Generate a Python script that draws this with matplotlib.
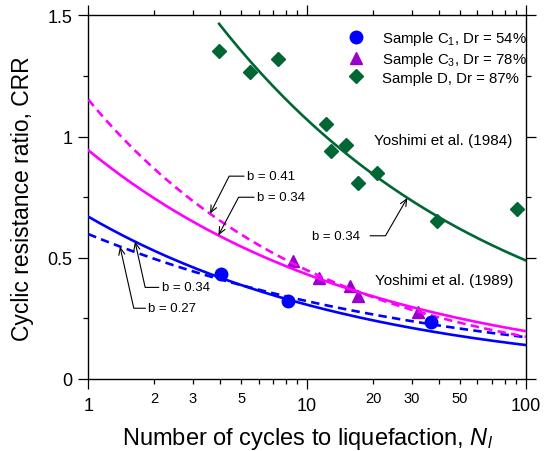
import numpy as np
import matplotlib
matplotlib.use("Agg")
import matplotlib.pyplot as plt
from matplotlib.lines import Line2D
from matplotlib.ticker import FixedLocator, FixedFormatter, NullFormatter

plt.rcParams['font.family'] = ['Liberation Sans', 'DejaVu Sans']
plt.rcParams['mathtext.fontset'] = 'custom'
plt.rcParams['mathtext.rm'] = 'Liberation Sans'
plt.rcParams['mathtext.it'] = 'Liberation Sans:italic'

# test data
c1_n = [4.04, 8.20, 36.8]
c1_crr = [0.433, 0.321, 0.234]
c3_n = [8.65, 11.3, 15.7, 17.1, 32.2]
c3_crr = [0.486, 0.415, 0.385, 0.344, 0.275]
d_n = [3.96, 5.48, 7.38, 12.2, 12.9, 15.0, 17.0, 20.8, 39.1, 90.5]
d_crr = [1.355, 1.268, 1.321, 1.052, 0.942, 0.966, 0.809, 0.849, 0.653, 0.702]

# fitted curves CRR = a * N^-b
fit_a = {'c1_solid': 0.670, 'c1_dash': 0.598, 'c3_solid': 0.944, 'c3_dash': 1.153, 'd': 2.34}
fit_b = {'c1_solid': 0.34, 'c1_dash': 0.27, 'c3_solid': 0.34, 'c3_dash': 0.41, 'd': 0.34}
fit_start = {'c1_solid': 1, 'c1_dash': 1, 'c3_solid': 1, 'c3_dash': 1, 'd': 3.96}

legend_labels = ['Sample C$_1$, Dr = 54%', 'Sample C$_3$, Dr = 78%', 'Sample D, Dr = 87%']

blue = '#0000FF'
magenta = '#FF00FF'
purple = '#9900CC'
green = '#006633'

def crr(key, n):
    return fit_a[key] * np.asarray(n, dtype=float) ** (-fit_b[key])

fig = plt.figure(figsize=(5.47, 4.52), dpi=100)
ax = fig.add_axes([0.1614, 0.1593, 0.8002, 0.8042])

ax.set_xscale('log')
ax.set_xlim(1, 100)
ax.set_ylim(0, 1.5)

styles = {'c1_solid': (blue, '-'), 'c1_dash': (blue, (0, (3.2, 2.0))),
          'c3_solid': (magenta, '-'), 'c3_dash': (magenta, (0, (3.2, 2.0))),
          'd': (green, '-')}
for key, (col, ls) in styles.items():
    nn = np.logspace(np.log10(fit_start[key]), 2, 200)
    ax.plot(nn, crr(key, nn), color=col, linestyle=ls, lw=1.9, zorder=3)

ax.plot(c1_n, c1_crr, 'o', color=blue, ms=9, zorder=4, clip_on=False)
ax.plot(c3_n, c3_crr, '^', color=purple, ms=9, zorder=2, clip_on=False)
ax.plot(d_n, d_crr, 'D', color=green, ms=7.5, zorder=4, clip_on=False)

# annotations: (key, tip N, text N, text CRR, leader start N, diagonal angle, ha)
notes = [
    ('c3_dash', 3.60, 5.29, 0.837, 5.15, 63, 'left', 'b = 0.41'),
    ('c3_solid', 3.93, 5.88, 0.750, 5.72, 62, 'left', 'b = 0.34'),
    ('c1_solid', 1.635, 2.165, 0.378, 2.10, -77.5, 'left', 'b = 0.34'),
    ('c1_dash', 1.396, 1.88, 0.292, 1.825, -77.4, 'left', 'b = 0.27'),
    ('d', 28.7, 17.43, 0.591, 19.4, 60, 'right', 'b = 0.34'),
]
for key, tip_n, tx, ty, sx, ang, ha, txt in notes:
    ax.text(tx, ty, txt, fontsize=9.5, ha=ha, va='center')
    ax.annotate('', xy=(tip_n, float(crr(key, tip_n))), xytext=(sx, ty),
                arrowprops=dict(arrowstyle='->,head_length=0.5,head_width=0.22', lw=0.8,
                                color='black', shrinkA=0, shrinkB=0,
                                connectionstyle='angle,angleA=0,angleB=%g,rad=0' % ang))

ax.text(87.0, 0.986, 'Yoshimi et al. (1984)', fontsize=11, ha='right', va='center')
ax.text(87.2, 0.409, 'Yoshimi et al. (1989)', fontsize=11, ha='right', va='center')

handles = [Line2D([], [], marker='o', color=blue, ls='none', ms=9),
           Line2D([], [], marker='^', color=purple, ls='none', ms=9),
           Line2D([], [], marker='D', color=green, ls='none', ms=7.5)]
ax.legend(handles, legend_labels, loc='upper left', bbox_to_anchor=(0.595, 0.962),
          frameon=False, fontsize=10.8, handlelength=1.0, handletextpad=1.25,
          labelspacing=0.18, borderpad=0, borderaxespad=0)

# axes / ticks
ax.xaxis.set_major_locator(FixedLocator([1, 10, 100]))
ax.xaxis.set_major_formatter(FixedFormatter(['1', '10', '100']))
minor_pos = [2, 3, 4, 5, 6, 7, 8, 9, 20, 30, 40, 50, 60, 70, 80, 90]
minor_lab = ['2', '3', '', '5', '', '', '', '', '20', '30', '', '50', '', '', '', '']
ax.xaxis.set_minor_locator(FixedLocator(minor_pos))
ax.xaxis.set_minor_formatter(FixedFormatter(minor_lab))
ax.set_yticks([0, 0.5, 1, 1.5])
ax.set_yticklabels(['0', '0.5', '1', '1.5'])
ax.set_yticks([0.25, 0.75, 1.25], minor=True)
ax.yaxis.set_minor_formatter(NullFormatter())

ax.tick_params(which='both', direction='out', top=True, right=True,
               labeltop=False, labelright=False, width=0.9, color='black')
ax.tick_params(which='major', length=7.2, labelsize=13, pad=4)
ax.tick_params(axis='x', which='major', pad=6)
ax.tick_params(axis='x', which='minor', length=3.6, labelsize=10.5, pad=5)
ax.tick_params(axis='y', which='minor', length=3.6)
for s in ax.spines.values():
    s.set_linewidth(1.0)

ax.set_xlabel('Number of cycles to liquefaction, $N_l$', fontsize=17, labelpad=8)
ax.set_ylabel('Cyclic resistance ratio, CRR', fontsize=16.5, labelpad=10)

fig.savefig('out.png', dpi=100)
